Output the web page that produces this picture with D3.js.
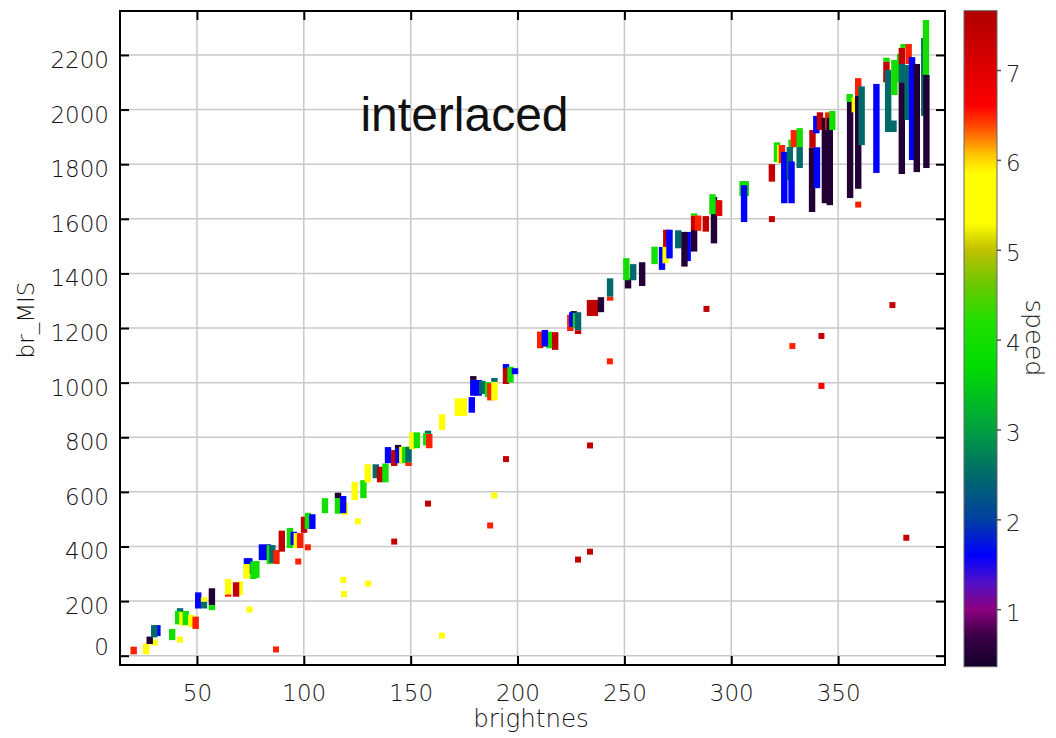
<!DOCTYPE html>
<html>
<head>
<meta charset="utf-8">
<script src="https://cdn.jsdelivr.net/npm/d3@7"></script>
<style>
  body { margin: 0; background: #fff; }
  svg { display: block; }
</style>
</head>
<body>
<svg id="chart" width="1056" height="738"></svg>
<script>
// ---- axis ticks ----
const xTicks = [50, 100, 150, 200, 250, 300, 350];
const yTicks = [0, 200, 400, 600, 800, 1000, 1200, 1400, 1600, 1800, 2000, 2200];
const speedTicks = [1, 2, 3, 4, 5, 6, 7];

// ---- speed colour map (stop value -> colour) ----
const cmapStops  = [0.36, 0.7, 1.0, 1.3, 1.6, 2.0, 2.5, 3.0, 3.7, 4.2, 4.6, 5.0, 5.3, 5.85, 6.05, 6.25, 6.4, 6.6, 7.0, 7.66];
const cmapColors = ["#12002c", "#3a0045", "#8c0080", "#5010c8", "#0000ff", "#0040a0", "#006a6a", "#00a040", "#00dc00", "#20e000",
                    "#68c800", "#c0c000", "#ffff00", "#ffff00", "#ffc800", "#ff7800", "#ff4000", "#ff0000", "#e00000", "#b00000"];

// ---- vertical range marks: brightnes, br_MIS low, br_MIS high, speed ----
const barX = [
  20.4, 26.2, 30.1, 27.9, 31.5, 30.0, 38.4, 42.1, 41.2, 43.2, 44.8, 47.3, 49.4, 50.6, 53.3, 53.3, 57.0, 57.0,
  64.6, 64.6, 70.0, 68.3, 74.5, 73.4, 73.2, 76.4, 77.8,
  80.4, 83.2, 84.1, 85.3, 87.2, 89.7, 93.5, 95.3, 96.7, 98.3, 100.1, 101.9, 104.0,
  109.9, 116.0, 116.0, 119.1, 118.4, 123.8, 127.9, 129.9, 133.7, 135.7, 138.2,
  139.4, 142.3, 144.1, 144.3, 146.1, 147.4, 149.0, 149.0, 150.8, 152.9, 158.1, 157.3, 158.7, 164.7, 172.1, 174.9,
  178.6, 179.3, 179.3, 181.8, 183.5, 186.2, 187.3, 189.2, 189.2, 194.6, 194.6, 196.7, 198.8,
  210.6, 214.8, 212.8, 217.6, 224.7, 226.3, 225.6, 227.4, 228.3, 228.3, 233.9, 236.2, 239.0, 243.3, 243.3,
  251.7, 250.9, 254.1, 258.3, 264.1, 267.6, 269.3, 269.6, 271.1, 275.2, 279.6, 278.1,
  282.6, 282.6, 282.6, 284.5, 288.1, 291.9, 293.1, 291.2, 294.3, 305.3, 306.8, 306.0,
  319.0, 321.4, 322.9, 323.7, 324.8, 328.2, 327.4, 328.2, 329.3, 332.0, 332.0,
  338.0, 337.8, 339.8, 340.1, 341.5, 343.8, 345.4, 346.1, 347.3,
  355.4, 355.6, 357.8, 359.4, 359.4, 361.0, 367.9,
  372.6, 372.6, 375.9, 373.4, 376.3, 379.0, 379.8, 379.8, 380.6, 379.8, 382.5, 383.0, 384.6, 386.8, 390.3, 391.1, 391.3
];
const barLo = [
  5, 5, 37, 43, 72, 67, 57, 155, 115, 110, 112, 105, 98, 173, 173, 198, 167, 186,
  216, 225, 222, 216, 300, 326, 283, 281, 285,
  350, 350, 336, 340, 336, 381, 394, 405, 394, 394, 450, 464, 464,
  522, 576, 520, 515, 522, 570, 577, 635, 650, 635, 635,
  705, 695, 745, 705, 705, 705, 695, 708, 756, 760, 808, 770, 760, 827, 878, 878,
  890, 1010, 952, 952, 958, 947, 935, 1003, 935, 1050, 995, 1000, 1031,
  1126, 1126, 1132, 1120, 1189, 1250, 1204, 1200, 1192, 1178, 1244, 1244, 1258, 1300, 1315,
  1345, 1375, 1375, 1354, 1434, 1413, 1437, 1497, 1455, 1492, 1445, 1425,
  1480, 1559, 1612, 1556, 1553, 1510, 1620, 1617, 1610, 1683, 1683, 1588,
  1736, 1808, 1803, 1804, 1657, 1860, 1742, 1657, 1863, 1863, 1786,
  1860, 1625, 1913, 1712, 1925, 1657, 1925, 1650, 1925,
  2028, 1676, 1990, 2050, 1710, 1870, 1768,
  2175, 2100, 1918, 1918, 2053, 2100, 2100, 2167, 2226, 1764, 1962, 2167, 1815, 1771, 1977, 2127, 1786
];
const barHi = [
  33, 45, 60, 70, 112, 112, 98, 174, 164, 160, 164, 150, 143, 232, 198, 214, 186, 247,
  225, 281, 272, 269, 357, 357, 336, 345, 347,
  408, 408, 405, 405, 387, 458, 468, 454, 449, 449, 509, 523, 518,
  577, 597, 577, 564, 585, 636, 643, 701, 701, 692, 704,
  764, 753, 772, 760, 765, 765, 708, 765, 818, 818, 824, 815, 812, 884, 943, 943,
  947, 1024, 1010, 1010, 1007, 1002, 998, 1017, 1002, 1068, 1053, 1058, 1053,
  1187, 1187, 1193, 1185, 1248, 1262, 1258, 1255, 1258, 1192, 1303, 1303, 1313, 1315, 1382,
  1382, 1456, 1434, 1441, 1498, 1497, 1505, 1560, 1560, 1558, 1552, 1552,
  1559, 1612, 1620, 1612, 1610, 1680, 1668, 1690, 1668, 1738, 1738, 1723,
  1800, 1880, 1870, 1870, 1845, 1890, 1863, 1810, 1925, 1932, 1863,
  1925, 1860, 1977, 1862, 1990, 1970, 1990, 1970, 1995,
  2057, 2028, 2045, 2115, 2050, 2085, 2094,
  2190, 2175, 1960, 2145, 2182, 2204, 2167, 2226, 2240, 2100, 2163, 2240, 2192, 2167, 2262, 2328, 2127
];
const barSpeed = [
  6.5, 5.5, 5.5, 0.5, 1.6, 2.5, 4, 2.5, 4, 5.5, 4, 5.5, 6.5, 1.6, 2.5, 5.5, 4, 0.5,
  6.5, 5.5, 5.5, 7.4, 1.6, 1.6, 5.5, 4, 4,
  1.6, 1.6, 4, 2.5, 6.5, 7.4, 4, 1.6, 5.5, 6.5, 7.4, 4, 1.6,
  4, 0.5, 4, 5.5, 1.6, 5.5, 4, 5.5, 2.5, 7.4, 4,
  1.6, 7.4, 0.5, 1.6, 5.5, 4, 6.5, 2.5, 5.5, 4, 2.5, 4, 6.5, 5.5, 5.5, 5.5,
  1.6, 0.5, 1.6, 1.6, 2.5, 4, 6.5, 2.5, 5.5, 1.6, 7.4, 4, 1.6,
  6.5, 4, 1.6, 7.4, 6.5, 0.5, 1.6, 4, 2.5, 7.4, 7.4, 7.4, 0.5, 6.5, 2.5,
  0.5, 4, 2.5, 0.5, 4, 1.6, 5.5, 7.4, 1.6, 2.5, 1.6, 0.5,
  0.5, 7.4, 4, 6.5, 7.4, 0.5, 2.5, 4, 7.0, 4, 4, 1.6,
  7.4, 4, 5.5, 6.5, 1.6, 4, 2.5, 1.6, 6.5, 4, 2.5,
  7.4, 0.5, 1.6, 1.6, 7.4, 0.5, 6.5, 0.5, 4,
  4, 0.5, 5.5, 6.5, 0.5, 2.5, 1.6,
  4, 7.4, 2.5, 2.5, 4, 4, 2.5, 7.4, 4, 0.5, 2.5, 6.5, 1.6, 0.5, 2.5, 4, 0.5
];

// ---- isolated single samples: brightnes, br_MIS, speed ----
const ptX = [42.0, 74.6, 87.0, 97.4, 101.9, 118.5, 118.8, 125.3, 130.1, 142.3, 158.1, 164.6, 187.2, 189.1,
             194.6, 228.3, 233.9, 233.9, 243.2, 288.4, 319.0, 328.6, 342.2, 342.2, 359.4, 375.4, 381.9];
const ptY = [59, 169, 23, 345, 397, 278, 226, 492, 264, 418, 557, 74, 477, 587,
             720, 352, 381, 770, 1078, 1270, 1599, 1134, 1171, 988, 1652, 1284, 432];
const ptSpeed = [5.5, 5.5, 6.5, 6.5, 6.5, 5.5, 5.5, 5.5, 5.5, 7.4, 7.4, 5.5, 6.5, 5.5,
                 7.4, 7.4, 7.4, 7.4, 6.5, 7.4, 7.4, 6.5, 7.4, 6.6, 6.5, 7.4, 7.4];

// ---- layout ----
const svg = d3.select("#chart");
const plot = { left: 120, right: 945, top: 11, bottom: 665 };
const cb = { left: 964, right: 997, top: 10.7, bottom: 666.7 };
const FONT = "'DejaVu Sans ExtraLight', 'DejaVu Sans', Verdana, sans-serif";
const WEIGHT = 200;
const TEXT = "#141414";
const BAR_HALF = 1.5;   // half width of a range mark, in brightnes units
const PT_SIZE = 6;      // side of a single-sample square, px

const x = d3.scaleLinear().domain([14, 400]).range([plot.left, plot.right]);
const y = d3.scaleLinear().domain([-34, 2361]).range([plot.bottom, plot.top]);
const color = d3.scaleLinear().domain(cmapStops).range(cmapColors).clamp(true);
const cbScale = d3.scaleLinear().domain([0.36, 7.66]).range([cb.bottom, cb.top]);
const plain = d3.format("d");

// ---- grid ----
const grid = svg.append("g").attr("stroke", "#c9c9c9").attr("stroke-width", 1.5);
grid.selectAll("line.gx").data(xTicks).join("line").attr("class", "gx")
  .attr("x1", d => x(d)).attr("x2", d => x(d))
  .attr("y1", plot.top).attr("y2", plot.bottom);
grid.selectAll("line.gy").data(yTicks).join("line").attr("class", "gy")
  .attr("x1", plot.left).attr("x2", plot.right)
  .attr("y1", d => y(d)).attr("y2", d => y(d));

// ---- range marks ----
const bars = barX.map((bx, i) => ({ x: bx, lo: barLo[i], hi: barHi[i], s: barSpeed[i] }));
svg.append("g").selectAll("rect").data(bars).join("rect")
  .attr("x", d => x(d.x - BAR_HALF))
  .attr("width", d => x(d.x + BAR_HALF) - x(d.x - BAR_HALF))
  .attr("y", d => y(d.hi))
  .attr("height", d => y(d.lo) - y(d.hi))
  .attr("fill", d => color(d.s));

// ---- single samples ----
const pts = ptX.map((px, i) => ({ x: px, y: ptY[i], s: ptSpeed[i] }));
svg.append("g").selectAll("rect").data(pts).join("rect")
  .attr("x", d => x(d.x) - PT_SIZE / 2)
  .attr("y", d => y(d.y) - PT_SIZE / 2)
  .attr("width", PT_SIZE).attr("height", PT_SIZE)
  .attr("fill", d => color(d.s));

// ---- frame and axes (ticks point inward on all four sides) ----
svg.append("rect")
  .attr("x", plot.left).attr("y", plot.top)
  .attr("width", plot.right - plot.left).attr("height", plot.bottom - plot.top)
  .attr("fill", "none").attr("stroke", "#000").attr("stroke-width", 2);

function styleAxis(g) {
  g.attr("font-family", FONT).attr("font-size", 23).attr("font-weight", WEIGHT);
  g.select(".domain").remove();
  g.selectAll(".tick line").attr("stroke", "#000").attr("stroke-width", 2);
  g.selectAll(".tick text").attr("fill", TEXT);
}

svg.append("g").attr("transform", `translate(${plot.left},0)`)
  .call(d3.axisLeft(y).tickValues(yTicks).tickFormat(plain).tickSize(-9).tickPadding(11))
  .call(styleAxis)
  .call(g => g.selectAll(".tick text").attr("dy", d => d === 0 ? "-1px" : "12.5px"));

svg.append("g").attr("transform", `translate(${plot.right},0)`)
  .call(d3.axisRight(y).tickValues(yTicks).tickSize(-9).tickFormat(""))
  .call(styleAxis);

svg.append("g").attr("transform", `translate(0,${plot.bottom})`)
  .call(d3.axisBottom(x).tickValues(xTicks).tickFormat(plain).tickSize(-9))
  .call(styleAxis)
  .call(g => g.selectAll(".tick text").attr("y", 35.7).attr("dy", 0));

svg.append("g").attr("transform", `translate(0,${plot.top})`)
  .call(d3.axisTop(x).tickValues(xTicks).tickSize(-9).tickFormat(""))
  .call(styleAxis);

// ---- axis titles ----
svg.append("text")
  .attr("x", 531).attr("y", 727)
  .attr("text-anchor", "middle")
  .attr("font-family", FONT).attr("font-weight", WEIGHT).attr("font-size", 24.5).attr("fill", TEXT)
  .text("brightnes");

svg.append("text")
  .attr("transform", "translate(34,320) rotate(-90)")
  .attr("text-anchor", "middle")
  .attr("font-family", FONT).attr("font-weight", WEIGHT).attr("font-size", 23).attr("fill", TEXT)
  .text("br_MIS");

svg.append("text")
  .attr("x", 464.5).attr("y", 131)
  .attr("text-anchor", "middle")
  .attr("font-family", "'Liberation Sans', Arial, sans-serif").attr("font-size", 48).attr("fill", "#111")
  .text("interlaced");

// ---- colour bar ----
const grad = svg.append("defs").append("linearGradient")
  .attr("id", "speedGrad")
  .attr("x1", 0).attr("y1", 1).attr("x2", 0).attr("y2", 0);
grad.selectAll("stop").data(cmapStops).join("stop")
  .attr("offset", d => (cb.bottom - cbScale(d)) / (cb.bottom - cb.top))
  .attr("stop-color", (d, i) => cmapColors[i]);

svg.append("rect")
  .attr("x", cb.left).attr("y", cb.top)
  .attr("width", cb.right - cb.left).attr("height", cb.bottom - cb.top)
  .attr("fill", "url(#speedGrad)")
  .attr("stroke", "#666").attr("stroke-width", 1);

svg.append("g").attr("transform", `translate(${cb.right},0)`)
  .call(d3.axisRight(cbScale).tickValues(speedTicks).tickSize(4).tickPadding(5))
  .call(g => {
    g.attr("font-family", FONT).attr("font-weight", WEIGHT).attr("font-size", 23);
    g.select(".domain").remove();
    g.selectAll(".tick line").attr("stroke", "#555").attr("stroke-width", 1.5);
    g.selectAll(".tick text").attr("fill", "#222").attr("dy", "11px");
  });

svg.append("text")
  .attr("transform", "translate(1026,338) rotate(90)")
  .attr("text-anchor", "middle")
  .attr("font-family", FONT).attr("font-weight", WEIGHT).attr("font-size", 25.5).attr("fill", "#222")
  .text("speed");
</script>
</body>
</html>
